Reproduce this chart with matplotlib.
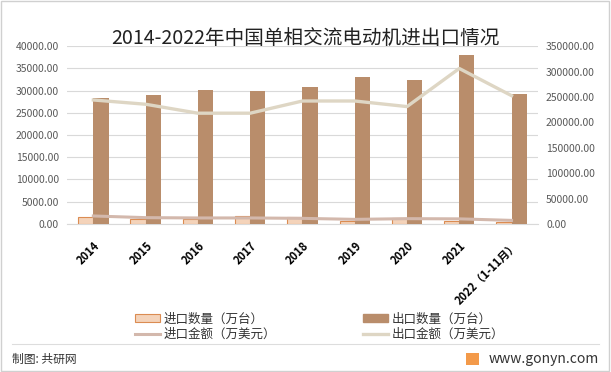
import matplotlib
matplotlib.use('Agg')
import matplotlib.pyplot as plt
import numpy as np
from matplotlib.patches import Rectangle
from matplotlib.lines import Line2D

plt.rcParams['font.family'] = ['Noto Sans CJK SC', 'DejaVu Sans']

years = ['2014', '2015', '2016', '2017', '2018', '2019', '2020', '2021', '2022（1-11月）']
import_qty = [1570, 1050, 1050, 1720, 1500, 740, 1350, 740, 520]          # 万台
export_qty = [28300, 29000, 30100, 29900, 30800, 33000, 32400, 38000, 29200]  # 万台
import_val = [15700, 12400, 11800, 11800, 11000, 9000, 10400, 10000, 7000]    # 万美元
export_val = [244000, 235600, 218000, 218000, 242000, 242000, 231000, 306000, 252500]  # 万美元

left_ticks = np.arange(0, 40001, 5000)
right_ticks = np.arange(0, 350001, 50000)

c_imp_bar = '#F4D3BA'
c_imp_edge = '#DB8C52'
c_exp_bar = '#B98D6B'
c_imp_line = '#D3B8AC'
c_exp_line = '#DED6C4'

fig = plt.figure(figsize=(6.11, 3.72), dpi=100)
fig.patch.set_facecolor('white')
fig.patches.append(Rectangle((0.002, 0.003), 0.995, 0.994, transform=fig.transFigure,
                             fill=False, edgecolor='#D0D0D0', linewidth=1))

ax = fig.add_axes([0.110, 0.398, 0.770, 0.478])
ax2 = ax.twinx()

x = np.arange(len(years))
w = 0.29
ax.bar(x - w / 2, import_qty, w, color=c_imp_bar, edgecolor=c_imp_edge, linewidth=0.8, zorder=3)
ax.bar(x + w / 2, export_qty, w, color=c_exp_bar, zorder=3)
ax2.plot(x, import_val, color=c_imp_line, linewidth=2.2, zorder=4)
ax2.plot(x, export_val, color=c_exp_line, linewidth=2.4, zorder=4)

ax.set_xlim(-0.5, len(years) - 0.5)
ax.set_ylim(0, 40000)
ax2.set_ylim(0, 350000)
ax.set_yticks(left_ticks)
ax.set_yticklabels(['%.2f' % v for v in left_ticks])
ax2.set_yticks(right_ticks)
ax2.set_yticklabels(['%.2f' % v for v in right_ticks])
ax.grid(axis='y', color='#D9D9D9', linewidth=0.8, zorder=0)
ax.set_axisbelow(True)

for a in (ax, ax2):
    for s in a.spines.values():
        s.set_visible(False)
    a.tick_params(axis='y', length=0, labelsize=7.5, labelcolor='#595959', pad=6)
ax.spines['bottom'].set_visible(True)
ax.spines['bottom'].set_color('#D9D9D9')

ax.set_xticks(x)
ax.set_xticklabels(years, rotation=45, ha='right', rotation_mode='anchor',
                   fontsize=8, fontweight='bold', color='black')
ax.tick_params(axis='x', length=0, pad=11)

fig.text(0.5, 0.896, '2014-2022年中国单相交流电动机进出口情况', ha='center', va='center',
         fontsize=14.1, color='#222222')

handles = [
    Rectangle((0, 0), 1, 1, facecolor=c_imp_bar, edgecolor=c_imp_edge, linewidth=0.8),
    Line2D([], [], color=c_imp_line, linewidth=2.2),
    Rectangle((0, 0), 1, 1, facecolor=c_exp_bar, edgecolor=c_exp_bar),
    Line2D([], [], color=c_exp_line, linewidth=2.4),
]
labels = ['进口数量（万台）', '进口金额（万美元）', '出口数量（万台）', '出口金额（万美元）']
fig.legend(handles, labels, ncol=2, loc='center left', bbox_to_anchor=(135 / 611, 0.122),
           frameon=False, fontsize=9, handlelength=2.0, handleheight=0.6,
           columnspacing=7.0, labelspacing=0.2, handletextpad=0.25,
           borderpad=0, borderaxespad=0, labelcolor='#333333')

fig.add_artist(Line2D([0.02, 0.98], [0.075, 0.075], transform=fig.transFigure,
                      color='#DDDDDD', linewidth=0.8))
fig.text(0.02, 0.033, '制图: 共研网', ha='left', va='center', fontsize=8.5, color='#333333')
fig.patches.append(Rectangle((0.763, 0.018), 0.021, 0.034, transform=fig.transFigure,
                             facecolor='#F39A4A', edgecolor='none'))
fig.text(0.80, 0.035, 'www.gonyn.com', ha='left', va='center', fontsize=10, color='#333333')

fig.savefig('out.png', dpi=100)
